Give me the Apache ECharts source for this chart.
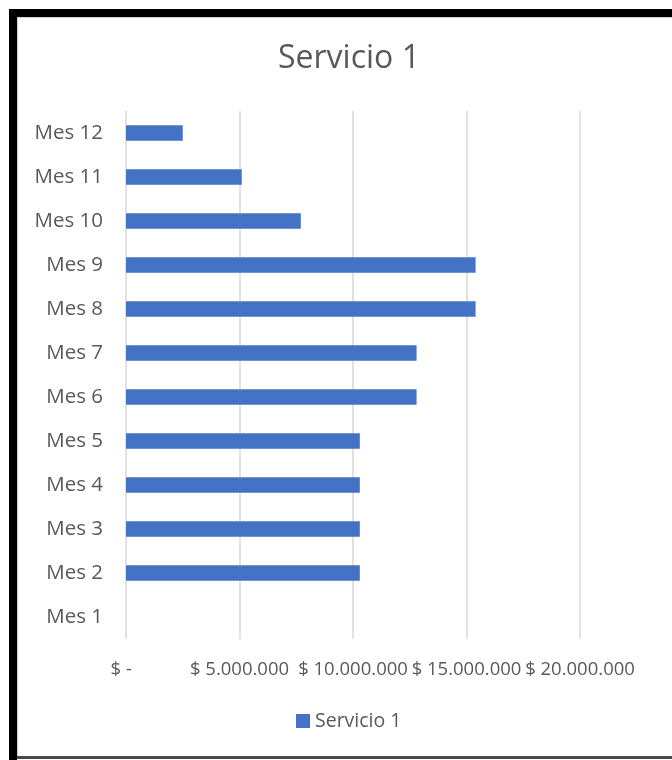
<!DOCTYPE html>
<html>
<head>
<meta charset="utf-8">
<script src="https://cdn.jsdelivr.net/npm/echarts@6/dist/echarts.min.js"></script>
<style>
  html, body { margin: 0; padding: 0; background: #ffffff; }
  #chart { width: 672px; height: 760px; }
</style>
</head>
<body>
<div id="chart"></div>
<script>
// Monthly amounts for "Servicio 1"
const categories = ['Mes 1', 'Mes 2', 'Mes 3', 'Mes 4', 'Mes 5', 'Mes 6',
                    'Mes 7', 'Mes 8', 'Mes 9', 'Mes 10', 'Mes 11', 'Mes 12'];
const servicio1 = [0, 10300000, 10300000, 10300000, 10300000, 12800000,
                   12800000, 15400000, 15400000, 7700000, 5100000, 2500000];
const seriesName = 'Servicio 1';
const titleText = 'Servicio 1';
const axisMax = 20000000;
const axisStep = 5000000;

function money(v) {
  if (v === 0) return '$ -  ';
  return '$ ' + String(v).replace(/\B(?=(\d{3})+(?!\d))/g, '.');
}

const chart = echarts.init(document.getElementById('chart'), null, { renderer: 'canvas' });
const txt = '#595959';
const font = '"Open Sans", "Liberation Sans", sans-serif';

chart.setOption({
  backgroundColor: '#ffffff',
  animation: false,
  title: {
    text: titleText,
    left: 273,
    top: 38,
    textStyle: { color: txt, fontSize: 32, fontWeight: 'normal', fontFamily: font }
  },
  legend: {
    data: [seriesName],
    top: 711,
    left: 296,
    padding: 0,
    icon: 'rect',
    itemWidth: 14,
    itemHeight: 14,
    itemGap: 4,
    textStyle: { color: txt, fontSize: 19.5, fontFamily: font, padding: [0, 0, 0, 0] }
  },
  grid: { left: 126, right: 92, top: 111, bottom: 121, containLabel: false },
  xAxis: {
    type: 'value',
    min: 0,
    max: axisMax,
    interval: axisStep,
    axisLine: { show: false },
    axisTick: { show: false },
    splitLine: { lineStyle: { color: '#d9d9d9', width: 1.5 } },
    axisLabel: {
      color: txt, fontSize: 18.5, fontFamily: font, margin: 21,
      showMinLabel: true, showMaxLabel: true, hideOverlap: false,
      formatter: money
    }
  },
  yAxis: {
    type: 'category',
    data: categories,
    axisLine: { show: false },
    axisTick: { show: false },
    axisLabel: { color: txt, fontSize: 20.5, fontFamily: font, margin: 23 }
  },
  series: [{
    name: seriesName,
    type: 'bar',
    data: servicio1,
    barWidth: '35%',
    itemStyle: { color: '#4472C4' }
  }],
  graphic: [
    { type: 'rect', shape: { x: 9, y: 9, width: 663, height: 8 }, style: { fill: '#000000' } },
    { type: 'rect', shape: { x: 9, y: 9, width: 8, height: 751 }, style: { fill: '#000000' } },
    { type: 'rect', shape: { x: 17.5, y: 17.5, width: 660, height: 739 },
      style: { fill: 'none', stroke: '#d0d0d0', lineWidth: 1 } },
    { type: 'rect', shape: { x: 17, y: 756, width: 655, height: 3 }, style: { fill: '#4a4a4a' } }
  ]
});
</script>
</body>
</html>
